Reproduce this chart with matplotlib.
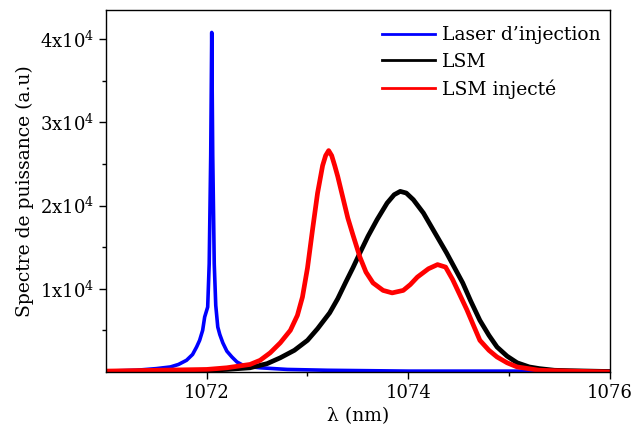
import matplotlib
matplotlib.use('Agg')
import matplotlib.pyplot as plt
import numpy as np

plt.rcParams['font.family'] = ['DejaVu Serif']
plt.rcParams['mathtext.fontset'] = 'dejavuserif'

# spectra (wavelength in nm, power in units of 1e4)
blue_x = [1071.0, 1071.3, 1071.5, 1071.64, 1071.72, 1071.8, 1071.86, 1071.9, 1071.93, 1071.96,
          1071.98, 1071.995, 1072.01, 1072.025, 1072.04, 1072.05, 1072.06, 1072.075, 1072.09,
          1072.11, 1072.13, 1072.16, 1072.2, 1072.25, 1072.3, 1072.36, 1072.45, 1072.53,
          1072.8, 1073.2, 1074.0, 1075.0, 1076.0]
blue_y = [0.01, 0.02, 0.04, 0.06, 0.09, 0.14, 0.21, 0.30, 0.38, 0.50,
          0.66, 0.72, 0.78, 1.3, 2.6, 4.08, 2.6, 1.3, 0.80,
          0.54, 0.45, 0.35, 0.25, 0.18, 0.12, 0.08, 0.06, 0.05,
          0.03, 0.02, 0.01, 0.01, 0.01]

red_x = [1071.0, 1071.5, 1072.0, 1072.2, 1072.43, 1072.53, 1072.63, 1072.73, 1072.83, 1072.9,
         1072.95, 1073.0, 1073.05, 1073.1, 1073.15, 1073.18, 1073.21, 1073.24, 1073.27, 1073.3,
         1073.35, 1073.4, 1073.45, 1073.52, 1073.58, 1073.65, 1073.75, 1073.84, 1073.95,
         1074.02, 1074.09, 1074.2, 1074.29, 1074.37, 1074.44, 1074.51, 1074.58, 1074.65,
         1074.71, 1074.8, 1074.88, 1074.98, 1075.08, 1075.3, 1075.6, 1076.0]
red_y = [0.01, 0.02, 0.03, 0.05, 0.09, 0.14, 0.23, 0.35, 0.50, 0.68,
         0.90, 1.25, 1.71, 2.15, 2.48, 2.60, 2.66, 2.60, 2.48, 2.35,
         2.10, 1.85, 1.65, 1.38, 1.20, 1.07, 0.98, 0.95, 0.98,
         1.05, 1.14, 1.24, 1.29, 1.26, 1.11, 0.93, 0.75, 0.55,
         0.38, 0.26, 0.18, 0.11, 0.06, 0.02, 0.01, 0.0]

black_x = [1071.0, 1071.5, 1072.0, 1072.2, 1072.43, 1072.6, 1072.73, 1072.87, 1073.0, 1073.1,
           1073.22, 1073.3, 1073.38, 1073.45, 1073.52, 1073.6, 1073.69, 1073.79, 1073.86,
           1073.92, 1073.98, 1074.05, 1074.15, 1074.26, 1074.38, 1074.46, 1074.54, 1074.62,
           1074.71, 1074.8, 1074.88, 1074.98, 1075.08, 1075.2, 1075.3, 1075.45, 1075.6, 1076.0]
black_y = [0.005, 0.01, 0.02, 0.03, 0.05, 0.10, 0.17, 0.26, 0.38, 0.52,
           0.71, 0.88, 1.08, 1.25, 1.43, 1.63, 1.83, 2.03, 2.13,
           2.17, 2.15, 2.07, 1.91, 1.68, 1.43, 1.25, 1.07, 0.85,
           0.62, 0.44, 0.30, 0.19, 0.11, 0.06, 0.04, 0.02, 0.015, 0.005]

y_ticks = [1e4, 2e4, 3e4, 4e4]
y_tick_labels = [r'1x10$^{4}$', r'2x10$^{4}$', r'3x10$^{4}$', r'4x10$^{4}$']
x_ticks = [1072, 1074, 1076]

fig = plt.figure(figsize=(6.34, 4.34), dpi=100)
ax = fig.add_axes([0.167, 0.143, 0.795, 0.834])

ax.plot(blue_x, np.array(blue_y) * 1e4, color='#0000ff', lw=2.6, label="Laser d\u2019injection")
ax.plot(black_x, np.array(black_y) * 1e4, color='black', lw=3.4, label='LSM')
ax.plot(red_x, np.array(red_y) * 1e4, color='#ff0000', lw=3.4, label='LSM inject\u00e9')

ax.set_xlim(1071, 1076)
ax.set_ylim(0, 4.35e4)
ax.set_xticks(x_ticks)
ax.set_xticks([1073, 1075], minor=True)
ax.set_yticks(y_ticks)
ax.set_yticklabels(y_tick_labels)
ax.set_yticks([0.5e4, 1.5e4, 2.5e4, 3.5e4], minor=True)
ax.tick_params(which='major', direction='out', length=5, width=1, labelsize=13)
ax.tick_params(which='minor', direction='out', length=3, width=1)
for s in ax.spines.values():
    s.set_linewidth(1)

ax.set_xlabel('\u03bb (nm)', fontsize=13.5)
ax.set_ylabel('Spectre de puissance (a.u)', fontsize=13.5)

leg = ax.legend(loc='upper right', bbox_to_anchor=(1.004, 0.986), frameon=False,
                fontsize=13.5, handlelength=2.8, handletextpad=0.4, labelspacing=0.45,
                borderaxespad=0.2)
for h in leg.get_lines():
    h.set_linewidth(2.0)

fig.savefig('out.png', dpi=100)
